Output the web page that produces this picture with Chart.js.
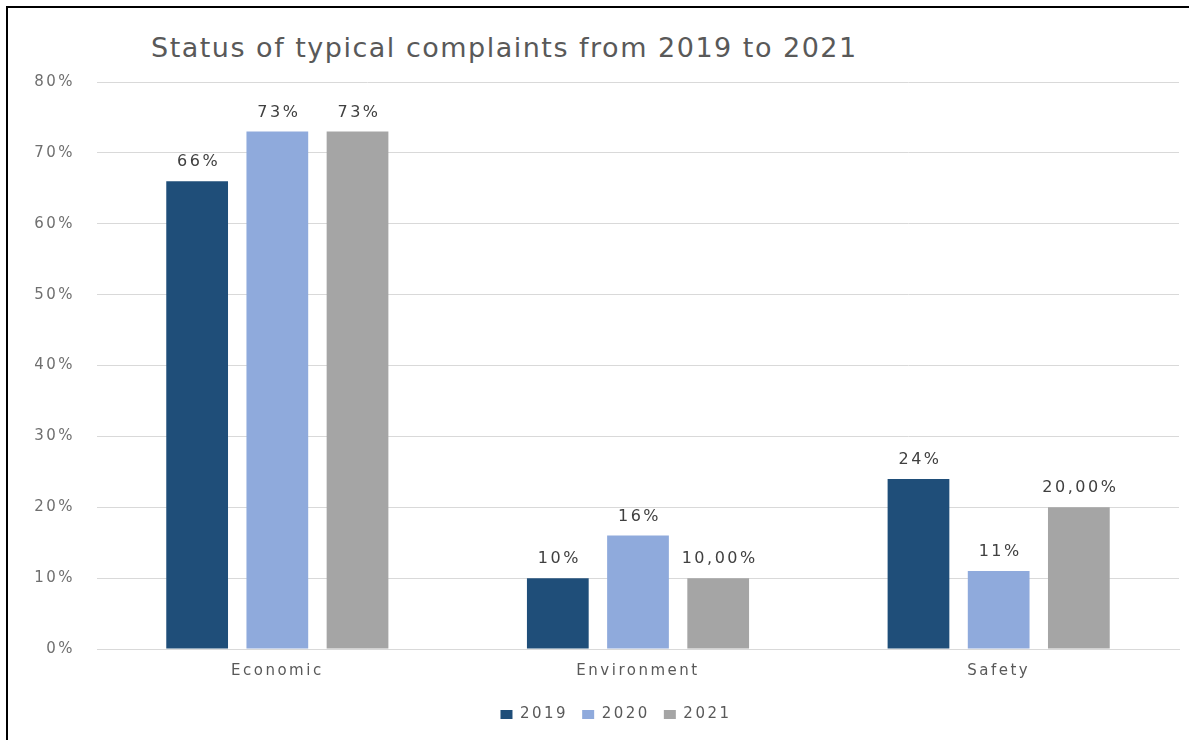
<!DOCTYPE html>
<html>
<head>
<meta charset="utf-8">
<title>Status of typical complaints</title>
<script src="https://cdn.jsdelivr.net/npm/chart.js@4.4.1/dist/chart.umd.min.js"></script>
<style>
  html, body { margin: 0; padding: 0; background: #fff; overflow: hidden; }
  #frame { position: absolute; left: 6px; top: 6px; width: 1300px; height: 900px; border: 2px solid #000; }
  #title { position: absolute; left: 151px; top: 32px; font-family: "DejaVu Sans", sans-serif; font-size: 27px;
           letter-spacing: 1.5px; color: #595959; white-space: nowrap; }
  #wrap { position: absolute; left: 0; top: 0; width: 1189px; height: 740px; }
</style>
</head>
<body>
<div id="frame"></div>
<div id="title">Status of typical complaints from 2019 to 2021</div>
<div id="wrap"><canvas id="complaintsChart"></canvas></div>
<script>
const categories = ['Economic', 'Environment', 'Safety'];
const years = ['2019', '2020', '2021'];
const values2019 = [66, 10, 24];
const values2020 = [73, 16, 11];
const values2021 = [73, 10, 20];
// decimals shown in each bar's label
const decimals2019 = [0, 0, 0];
const decimals2020 = [0, 0, 0];
const decimals2021 = [0, 2, 2];
const yTicks = [0, 10, 20, 30, 40, 50, 60, 70, 80];

const colors = ['#1f4e79', '#8faadc', '#a5a5a5'];
const FONT = '"DejaVu Sans", sans-serif';
const SPACING = '2.5px';

function fmt(v, d) {
    return v.toFixed(d).replace('.', ',') + '%';
}

// wider letter spacing for all canvas text, legend nudged right
const spacing = {
    id: 'spacing',
    beforeUpdate(chart) { chart.ctx.letterSpacing = SPACING; },
    afterLayout(chart) {
        chart.legend.left += 14;
        chart.legend.right += 14;
    },
    beforeDraw(chart) { chart.ctx.letterSpacing = SPACING; }
};

// value labels above each bar
const barLabels = {
    id: 'barLabels',
    afterDatasetsDraw(chart) {
        const ctx = chart.ctx;
        ctx.save();
        ctx.font = '16px ' + FONT;
        ctx.letterSpacing = SPACING;
        ctx.fillStyle = '#404040';
        ctx.textAlign = 'center';
        ctx.textBaseline = 'middle';
        chart.data.datasets.forEach((ds, i) => {
            chart.getDatasetMeta(i).data.forEach((bar, j) => {
                ctx.fillText(fmt(ds.data[j], ds.decimals[j]), bar.x + 1.5, bar.y - 19);
            });
        });
        ctx.restore();
    }
};

const ctx = document.getElementById('complaintsChart').getContext('2d');
new Chart(ctx, {
    type: 'bar',
    data: {
        labels: categories,
        datasets: [
            { label: years[0], data: values2019, decimals: decimals2019, backgroundColor: colors[0] },
            { label: years[1], data: values2020, decimals: decimals2020, backgroundColor: colors[1] },
            { label: years[2], data: values2021, decimals: decimals2021, backgroundColor: colors[2] }
        ]
    },
    options: {
        responsive: true,
        maintainAspectRatio: false,
        animation: false,
        categoryPercentage: 0.667,
        barPercentage: 0.77,
        layout: { padding: { left: 25, right: 10, top: 82, bottom: 8 } },
        plugins: {
            title: { display: false },
            tooltip: { enabled: false },
            legend: {
                position: 'bottom',
                labels: {
                    boxWidth: 12,
                    boxHeight: 9,
                    padding: 14,
                    color: '#595959',
                    font: { family: FONT, size: 15 }
                }
            }
        },
        scales: {
            x: {
                grid: { display: false, drawTicks: false },
                border: { color: '#d9d9d9' },
                ticks: { color: '#595959', padding: 13, font: { family: FONT, size: 15 } }
            },
            y: {
                min: 0,
                max: 80,
                afterFit(scale) { scale.width = 72; },
                afterBuildTicks(scale) { scale.ticks = yTicks.map(v => ({ value: v })); },
                grid: { color: '#d9d9d9', drawTicks: false },
                border: { display: false },
                ticks: {
                    color: '#6f6f6f',
                    padding: 22,
                    font: { family: FONT, size: 15 },
                    callback: v => v + '%'
                }
            }
        }
    },
    plugins: [spacing, barLabels]
});
</script>
</body>
</html>
